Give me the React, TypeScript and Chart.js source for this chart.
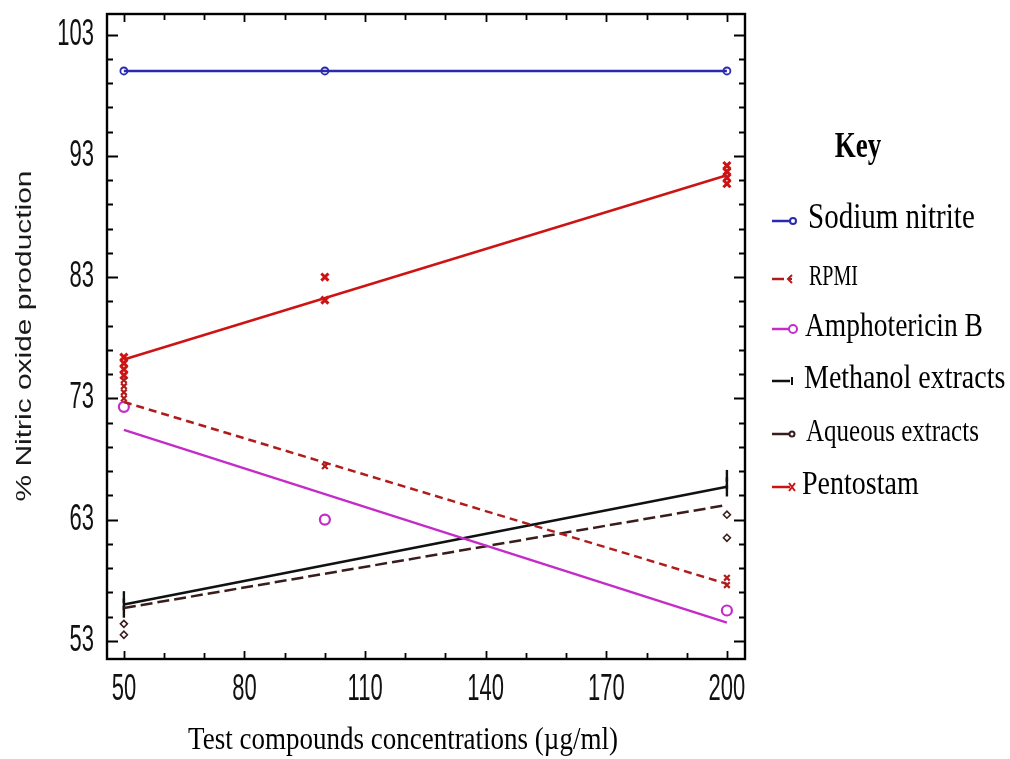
import React, { useEffect, useRef } from "react";
import { Chart, registerables } from "chart.js";

Chart.register(...registerables);

// ---------- data ----------
const xTickValues = [50, 80, 110, 140, 170, 200];
const yTickValues = [53, 63, 73, 83, 93, 103];
const seriesNames = [
  "Sodium nitrite",
  "RPMI",
  "Amphotericin B",
  "Methanol extracts",
  "Aqueous extracts",
  "Pentostam",
];
const seriesColors = ["#2a2ab0", "#b01c1c", "#c42cc8", "#111111", "#3a1c1c", "#cc1414"];

// fitted lines (values at x = 50 and x = 200)
const fitX = [50, 200];
const sodiumFit = [100, 100];
const rpmiFit = [72.7, 57.7];
const amphoFit = [70.4, 54.5];
const methanolFit = [56.0, 65.7];
const aqueousFit = [55.7, 64.2];
const pentostamFit = [76.2, 91.4];

// observed points
const sodiumX = [50, 100, 200];
const sodiumY = [100, 100, 100];
const rpmiX = [50, 50, 50, 50, 100, 200, 200];
const rpmiY = [74.5, 74.0, 73.5, 73.0, 67.4, 58.2, 57.6];
const amphoX = [50, 100, 200];
const amphoY = [72.3, 63.0, 55.5];
const methanolX = [50, 50, 50, 200, 200, 200];
const methanolY = [56.6, 56.0, 55.4, 66.6, 66.0, 65.4];
const aqueousX = [50, 50, 200, 200];
const aqueousY = [54.4, 53.5, 63.4, 61.5];
const pentostamX = [50, 50, 50, 50, 100, 100, 200, 200, 200, 200];
const pentostamY = [76.4, 75.9, 75.4, 74.9, 83.0, 81.1, 92.2, 91.7, 91.2, 90.7];

const toPts = (xs: number[], ys: number[]) => xs.map((x, i) => ({ x, y: ys[i] }));

function drawText(
  ctx: CanvasRenderingContext2D,
  text: string,
  x: number,
  y: number,
  font: string,
  align: CanvasTextAlign,
  sy = 1,
  sx = 1,
  rot = 0,
  color = "#000"
) {
  ctx.save();
  ctx.translate(x, y);
  if (rot) ctx.rotate(rot);
  ctx.scale(sx, sy);
  ctx.font = font;
  ctx.fillStyle = color;
  ctx.textAlign = align;
  ctx.textBaseline = "middle";
  ctx.fillText(text, 0, 0);
  ctx.restore();
}

const framePlugin = {
  id: "frame",
  afterDatasetsDraw(chart: any) {
    const ctx: CanvasRenderingContext2D = chart.ctx;
    const { left, right, top, bottom } = chart.chartArea;
    const xs = chart.scales.x;
    const ys = chart.scales.y;
    ctx.save();
    ctx.strokeStyle = "#000";
    ctx.lineWidth = 2.4;
    ctx.strokeRect(left, top, right - left, bottom - top);
    ctx.lineWidth = 1.8;
    ctx.beginPath();
    for (let v = 52; v <= 104; v += 1) {
      if ((v - 53) % 2 !== 0) continue;
      const py = Math.round(ys.getPixelForValue(v)) + 0.5;
      const len = (v - 53) % 10 === 0 ? 11 : 6;
      ctx.moveTo(left, py);
      ctx.lineTo(left + len, py);
      ctx.moveTo(right, py);
      ctx.lineTo(right - len, py);
    }
    for (let v = 50; v <= 200; v += 10) {
      const px = Math.round(xs.getPixelForValue(v)) + 0.5;
      const len = (v - 50) % 30 === 0 ? 8 : 6;
      ctx.moveTo(px, bottom);
      ctx.lineTo(px, bottom - len);
      ctx.moveTo(px, top);
      ctx.lineTo(px, top + len);
    }
    ctx.stroke();
    ctx.restore();
  },
  afterDraw(chart: any) {
    const ctx: CanvasRenderingContext2D = chart.ctx;
    const xs = chart.scales.x;
    const ys = chart.scales.y;
    const tickFont = "22px 'Liberation Sans Narrow', 'Arial Narrow', 'Liberation Sans', sans-serif";
    yTickValues.forEach((v) => {
      drawText(ctx, String(v), 94, ys.getPixelForValue(v), tickFont, "right", 1.65, 1, 0, "#111");
    });
    xTickValues.forEach((v) => {
      drawText(ctx, String(v), xs.getPixelForValue(v), 690, tickFont, "center", 1.65, 1, 0, "#111");
    });
    drawText(
      ctx,
      "% Nitric oxide production",
      25,
      336,
      "22px 'Liberation Sans', Arial, sans-serif",
      "center",
      1,
      1.36,
      -Math.PI / 2,
      "#1a1a1a"
    );
    drawText(
      ctx,
      "Test compounds concentrations (µg/ml)",
      403,
      740,
      "27px 'Liberation Serif', 'Times New Roman', serif",
      "center",
      1.2
    );

    // Key
    drawText(ctx, "Key", 858, 148, "bold 27px 'Liberation Serif', serif", "center", 1.3);
    const items = [
      { y: 219, x: 808, size: 29, sy: 1.22 },
      { y: 277, x: 809, size: 20, sy: 1.5 },
      { y: 327, x: 805, size: 27.5, sy: 1.25 },
      { y: 379, x: 804, size: 28, sy: 1.22 },
      { y: 432, x: 806, size: 25, sy: 1.3 },
      { y: 485, x: 802, size: 28, sy: 1.22 },
    ];
    items.forEach((it, i) => {
      drawText(ctx, seriesNames[i], it.x, it.y, `${it.size}px 'Liberation Serif', serif`, "left", it.sy);
      const c = seriesColors[i];
      const y = it.y + 2;
      ctx.save();
      ctx.strokeStyle = c;
      ctx.fillStyle = c;
      ctx.lineWidth = 2.5;
      ctx.beginPath();
      ctx.moveTo(772, y);
      ctx.lineTo(i === 1 ? 784 : 790, y);
      ctx.stroke();
      ctx.lineWidth = 2;
      ctx.beginPath();
      if (i === 0) {
        ctx.arc(793, y, 3, 0, Math.PI * 2);
        ctx.fillStyle = "#fff";
        ctx.fill();
        ctx.stroke();
      } else if (i === 1) {
        ctx.moveTo(792, y - 4);
        ctx.lineTo(788, y);
        ctx.lineTo(792, y + 4);
        ctx.moveTo(788, y);
        ctx.lineTo(792, y);
        ctx.stroke();
      } else if (i === 2) {
        ctx.arc(793, y, 4, 0, Math.PI * 2);
        ctx.fillStyle = "#fff";
        ctx.fill();
        ctx.stroke();
      } else if (i === 3) {
        ctx.moveTo(792, y - 4);
        ctx.lineTo(792, y + 4);
        ctx.stroke();
      } else if (i === 4) {
        ctx.arc(792, y, 2.5, 0, Math.PI * 2);
        ctx.fillStyle = "#fff";
        ctx.fill();
        ctx.stroke();
      } else {
        ctx.moveTo(789, y - 4);
        ctx.lineTo(795, y + 4);
        ctx.moveTo(795, y - 4);
        ctx.lineTo(789, y + 4);
        ctx.stroke();
      }
      ctx.restore();
    });
  },
};

export default function App() {
  const ref = useRef<HTMLCanvasElement | null>(null);
  useEffect(() => {
    if (!ref.current) return;
    const fits = [sodiumFit, rpmiFit, amphoFit, methanolFit, aqueousFit, pentostamFit];
    const dashes = [[], [8, 5], [], [], [12, 5], []];
    const pts = [
      toPts(sodiumX, sodiumY),
      toPts(rpmiX, rpmiY),
      toPts(amphoX, amphoY),
      toPts(methanolX, methanolY),
      toPts(aqueousX, aqueousY),
      toPts(pentostamX, pentostamY),
    ];
    const styles: any[] = [
      { pointStyle: "circle", radius: 3.5, bw: 1.8, bg: "#fff" },
      { pointStyle: "crossRot", radius: 4, bw: 2.2, bg: seriesColors[1] },
      { pointStyle: "circle", radius: 5, bw: 2.2, bg: "rgba(0,0,0,0)" },
      { pointStyle: "line", radius: 6, bw: 2.4, bg: "#111", rot: 90 },
      { pointStyle: "rectRot", radius: 3.5, bw: 1.6, bg: "#fff" },
      { pointStyle: "crossRot", radius: 5, bw: 3, bg: seriesColors[5] },
    ];
    const datasets: any[] = [];
    fits.forEach((f, i) => {
      datasets.push({
        label: seriesNames[i] + " fit",
        data: toPts(fitX, f),
        showLine: true,
        borderColor: seriesColors[i],
        borderWidth: 2.5,
        borderDash: dashes[i],
        pointRadius: 0,
        fill: false,
      });
    });
    pts.forEach((p, i) => {
      datasets.push({
        label: seriesNames[i],
        data: p,
        showLine: false,
        pointStyle: styles[i].pointStyle,
        pointRadius: styles[i].radius,
        pointBorderWidth: styles[i].bw,
        pointRotation: styles[i].rot || 0,
        borderColor: seriesColors[i],
        backgroundColor: styles[i].bg,
        clip: false,
      });
    });
    const chart = new Chart(ref.current, {
      type: "scatter",
      data: { datasets },
      options: {
        animation: false,
        responsive: false,
        devicePixelRatio: 1,
        layout: { padding: { left: 107, top: 14, right: 265, bottom: 100 } },
        plugins: { legend: { display: false }, tooltip: { enabled: false } },
        scales: {
          x: { type: "linear", min: 45.8, max: 204.5, display: false },
          y: { type: "linear", min: 51.5, max: 104.7, display: false },
        },
      },
      plugins: [framePlugin],
    } as any);
    return () => chart.destroy();
  }, []);
  return (
    <div style={{ position: "fixed", left: 0, top: 0, width: 1010, height: 759, background: "#fff" }}>
      <canvas ref={ref} width={1010} height={759} style={{ width: 1010, height: 759 }} />
    </div>
  );
}
